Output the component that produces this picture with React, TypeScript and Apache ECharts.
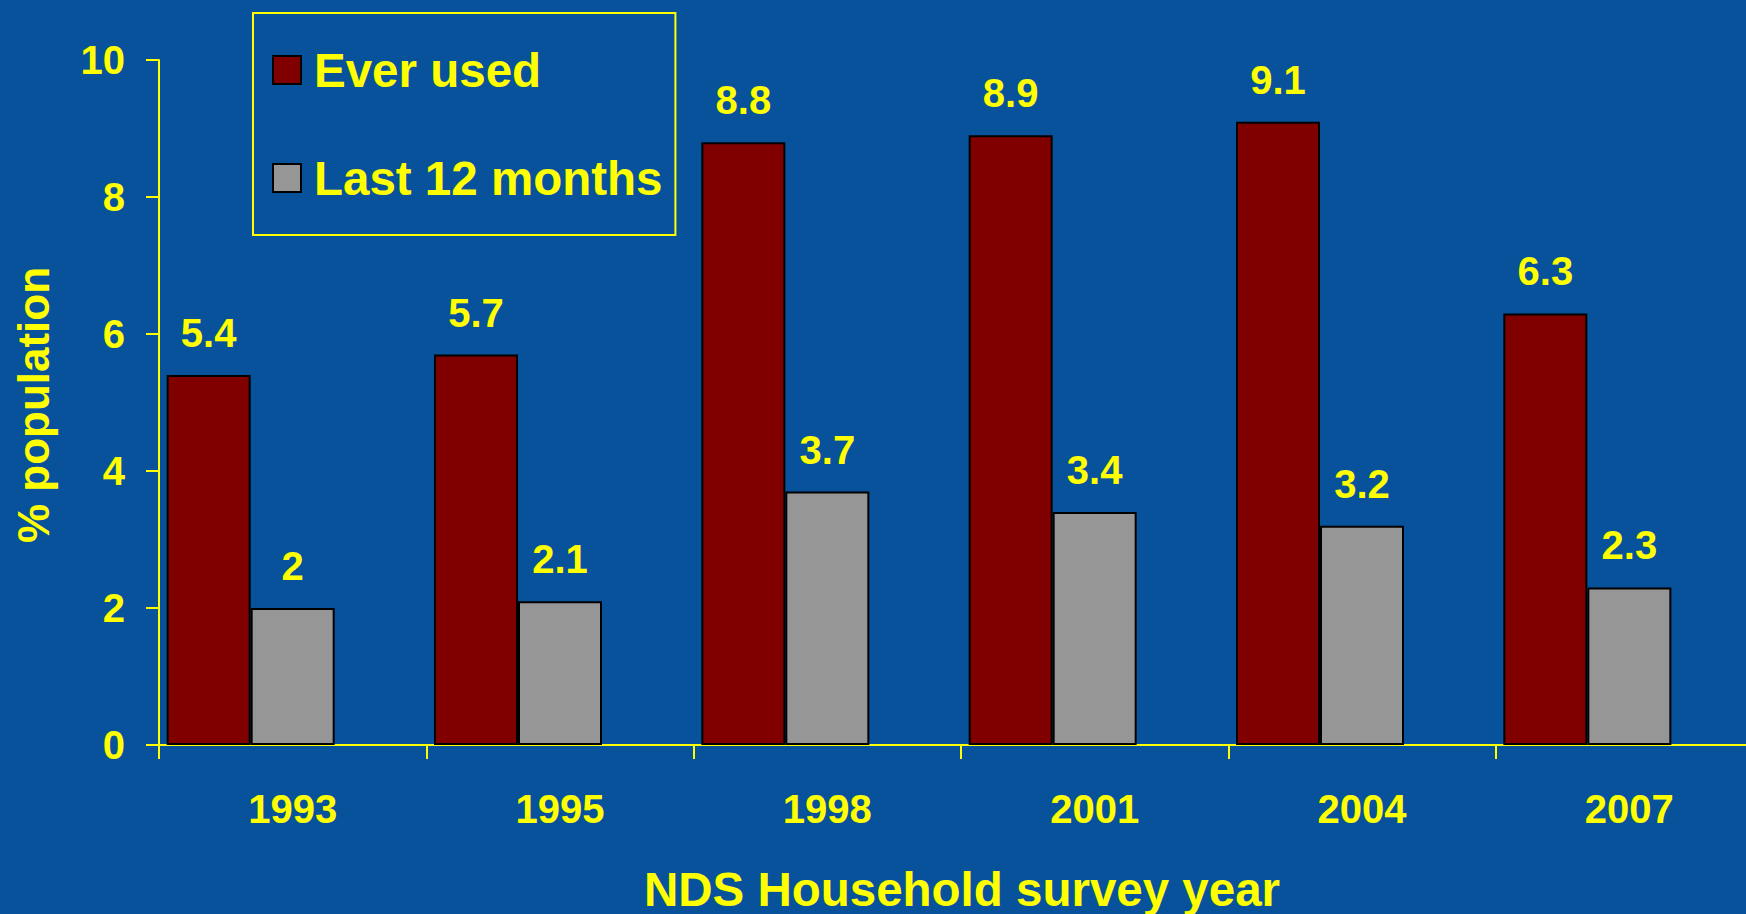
import React, { useEffect, useRef } from "react";
import * as echarts from "echarts";

const years = ["1993", "1995", "1998", "2001", "2004", "2007"];
const everUsed = [5.4, 5.7, 8.8, 8.9, 9.1, 6.3];
const last12Months = [2, 2.1, 3.7, 3.4, 3.2, 2.3];
const seriesNames = ["Ever used", "Last 12 months"];
const yTitle = "% population";
const xTitle = "NDS Household survey year";

const BG = "#08519b";
const YELLOW = "#ffff00";
const FONT = "'Liberation Sans', Arial, sans-serif";

export default function App() {
  const ref = useRef<HTMLDivElement>(null);
  useEffect(() => {
    document.body.style.margin = "0";
    const chart = echarts.init(ref.current!, null, { renderer: "svg" });
    const label = {
      show: true,
      position: "top",
      distance: 22,
      color: YELLOW,
      fontFamily: FONT,
      fontWeight: "bold",
      fontSize: 40,
    };
    chart.setOption({
      animation: false,
      backgroundColor: BG,
      textStyle: { fontFamily: FONT },
      grid: {
        left: 159,
        top: 60,
        bottom: 169,
        width: 1604,
        containLabel: false,
        outerBoundsMode: "none",
      },
      legend: {
        data: seriesNames,
        orient: "vertical",
        left: 253,
        top: 13,
        padding: [33, 13, 33, 19],
        itemGap: 60,
        itemWidth: 28,
        itemHeight: 28,
        borderColor: YELLOW,
        borderWidth: 2,
        icon: "rect",
        textStyle: {
          color: YELLOW,
          fontFamily: FONT,
          fontWeight: "bold",
          fontSize: 47.5,
          padding: [0, 0, 0, 8],
        },
      },
      xAxis: {
        type: "category",
        data: years,
        boundaryGap: true,
        axisLine: { lineStyle: { color: YELLOW, width: 2 } },
        axisTick: { show: true, length: 14, lineStyle: { color: YELLOW, width: 2 } },
        axisLabel: {
          color: YELLOW,
          fontFamily: FONT,
          fontWeight: "bold",
          fontSize: 40,
          margin: 44,
        },
        splitLine: { show: false },
      },
      yAxis: {
        type: "value",
        min: 0,
        max: 10,
        interval: 2,
        axisLine: { show: true, lineStyle: { color: YELLOW, width: 2 } },
        axisTick: { show: true, length: 13, lineStyle: { color: YELLOW, width: 2 } },
        axisLabel: {
          color: YELLOW,
          fontFamily: FONT,
          fontWeight: "bold",
          fontSize: 40,
          margin: 34,
        },
        splitLine: { show: false },
      },
      series: [
        {
          name: seriesNames[0],
          type: "bar",
          data: everUsed,
          barWidth: 84,
          barGap: "0%",
          itemStyle: { color: "#800000", borderColor: "#000", borderWidth: 2 },
          label,
        },
        {
          name: seriesNames[1],
          type: "bar",
          data: last12Months,
          barWidth: 84,
          barGap: "0%",
          itemStyle: { color: "#969696", borderColor: "#000", borderWidth: 2 },
          label,
        },
        {
          name: "spacer",
          type: "bar",
          data: years.map(() => null),
          barWidth: 84,
          barGap: "0%",
          itemStyle: { color: "transparent" },
          silent: true,
        },
      ],
      graphic: [
        {
          type: "text",
          x: 33,
          y: 405,
          rotation: Math.PI / 2,
          style: {
            text: yTitle,
            fill: YELLOW,
            font: `bold 44px ${FONT}`,
            align: "center",
            verticalAlign: "middle",
          },
        },
        {
          type: "text",
          x: 962,
          y: 889,
          style: {
            text: xTitle,
            fill: YELLOW,
            font: `bold 47.5px ${FONT}`,
            align: "center",
            verticalAlign: "middle",
          },
        },
      ],
    });
    return () => chart.dispose();
  }, []);
  return <div ref={ref} style={{ width: 1746, height: 914, background: BG }} />;
}
